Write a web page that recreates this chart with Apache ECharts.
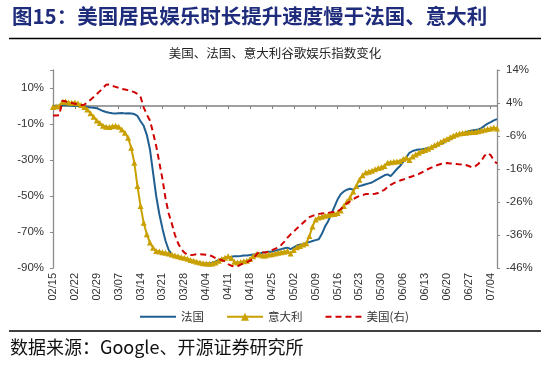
<!DOCTYPE html>
<html>
<head>
<meta charset="utf-8">
<script src="https://cdn.jsdelivr.net/npm/echarts@6/dist/echarts.min.js"></script>
<style>
html,body{margin:0;padding:0;background:#fff;}
#c{width:550px;height:365px;}
</style>
</head>
<body>
<div id="c"></div>
<script>
var dates = [
'02/15','02/16','02/17','02/18','02/19','02/20','02/21','02/22','02/23','02/24','02/25','02/26','02/27','02/28','02/29',
'03/01','03/02','03/03','03/04','03/05','03/06','03/07','03/08','03/09','03/10','03/11','03/12','03/13','03/14','03/15','03/16','03/17','03/18','03/19','03/20','03/21','03/22','03/23','03/24','03/25','03/26','03/27','03/28','03/29','03/30','03/31',
'04/01','04/02','04/03','04/04','04/05','04/06','04/07','04/08','04/09','04/10','04/11','04/12','04/13','04/14','04/15','04/16','04/17','04/18','04/19','04/20','04/21','04/22','04/23','04/24','04/25','04/26','04/27','04/28','04/29','04/30',
'05/01','05/02','05/03','05/04','05/05','05/06','05/07','05/08','05/09','05/10','05/11','05/12','05/13','05/14','05/15','05/16','05/17','05/18','05/19','05/20','05/21','05/22','05/23','05/24','05/25','05/26','05/27','05/28','05/29','05/30','05/31',
'06/01','06/02','06/03','06/04','06/05','06/06','06/07','06/08','06/09','06/10','06/11','06/12','06/13','06/14','06/15','06/16','06/17','06/18','06/19','06/20','06/21','06/22','06/23','06/24','06/25','06/26','06/27','06/28','06/29','06/30',
'07/01','07/02','07/03','07/04','07/05','07/06'
];

// 法国 (left axis, %)
var france = [
0, 0.2, 0.3, 0.5, 0.4, 0.3, 0.2, 0, 0, -0.2,
-0.3, -0.5, -0.8, -1.0, -1.2, -2.0, -2.8, -3.3, -3.7, -4.0,
-4.2, -4.0, -3.9, -4.1, -4.0, -4.2, -4.5, -5.5, -8.5, -11,
-16, -24, -37, -50, -60, -68, -75, -80, -82.5, -83.5,
-84, -84.5, -85, -85.5, -86, -86.5, -87, -87, -87.3, -87.5,
-87.5, -87, -86.5, -85.5, -85, -84.5, -84, -83.8, -83.5, -83.5,
-83.3, -83, -83, -82.8, -82.5, -82.5, -82, -81.5, -81.3, -81,
-81, -80.5, -80, -79.5, -79, -78.7, -79.5, -78.5, -77.5, -77,
-76.8, -76, -75.6, -75, -74.5, -74, -71, -67, -64, -60,
-56, -52, -49, -47.5, -46.5, -46, -46.5, -45, -44.5, -44,
-43.5, -43, -42.5, -41.5, -40.5, -39.5, -38.5, -38, -39, -37,
-35, -33.3, -31, -28.5, -26, -25, -24.5, -24.2, -24, -23.7,
-23.3, -23, -22.5, -21.8, -21.2, -20.3, -19.3, -18.5, -17.6, -16.6,
-15.8, -15.2, -14.6, -14, -13.6, -13.3, -13, -12.3, -11, -9.8,
-9, -8, -7.3
];

// 意大利 (left axis, %)
var italy = [
-0.5, -0.3, 0, 2.2, 2.5, 2, 1.8, 2, 1.5, 0.5,
-0.5, -2, -4, -6, -8, -9.5, -11, -11.5, -11.7, -11.3,
-11, -11.5, -13, -14.8, -17.6, -23.2, -31.5, -44.4, -55.6, -64.8,
-71.3, -75.9, -78.7, -80.5, -80.8, -81.2, -81.5, -82, -82.5, -83,
-83.5, -84, -84.3, -84.8, -85.5, -86, -86.5, -87, -87.3, -87.5,
-87.7, -87.5, -87, -86, -85, -84.3, -83.5, -84.5, -86.5, -87,
-86.7, -86.3, -86, -85, -83.5, -82.4, -82.5, -83, -83, -82.5,
-82.4, -82, -81.5, -81.2, -81, -80.5, -82, -80, -78.5, -77.8,
-77, -76.3, -72.2, -67, -63, -62, -61.5, -61, -60.5, -60.2,
-60, -59.5, -58, -55.6, -53, -50.9, -47.5, -44.4, -41, -38.5,
-37, -36.5, -36, -35.2, -34.5, -34, -33.3, -31.5, -31.2, -31,
-30.8, -30.6, -29.5, -28.7, -30, -28, -26.9, -26, -25, -24.5,
-23.8, -22.8, -21.8, -21, -20, -19, -18.3, -17.4, -16.5, -15.8,
-15.3, -15, -14.8, -14.6, -14.5, -14.4, -14, -13.6, -13.2, -12.8,
-12.5, -12, -12.5
];

// 美国(右) (right axis, %)
var usa = [
0.2, 0.2, 0.3, 4.7, 4.5, 4.2, 4.0, 3.8, 3.6, 3.4,
3.5, 4.2, 5, 5.8, 6.7, 7.6, 8.6, 9.5, 9.6, 9.2,
8.9, 8.6, 8.3, 8.1, 7.9, 7.6, 7.3, 6.8, 5.8, 2.7,
0.5, -1.3, -5, -9, -14, -19, -25, -29.5, -32.5, -36,
-38.5, -40.3, -41.3, -42, -42.1, -42, -41.8, -41.8, -41.9, -42,
-42.1, -42.5, -43, -43.3, -43.6, -44, -44.8, -45.3, -45.5, -45.5,
-45, -44.5, -44.2, -43.8, -43.3, -42, -41, -41.2, -41.3, -41,
-40.6, -40.2, -39.8, -39, -38, -36.8, -35.8, -35, -34, -33.2,
-32.3, -31.4, -30.6, -30.2, -29.9, -29.6, -29.5, -29.4, -29.3, -29.1,
-29, -28.8, -28.2, -27.2, -26.4, -25.8, -25.2, -24.6, -24.2, -23.9,
-23.6, -23.6, -23.6, -23.5, -23.3, -22.8, -22.3, -21.5, -20.8, -20.3,
-19.9, -19.5, -19.2, -18.8, -18.5, -18.2, -17.8, -17.5, -17, -16.5,
-16, -15.6, -15.2, -14.8, -14.5, -14.3, -14.2, -14.3, -14.4, -14.5,
-14.6, -14.7, -14.8, -15.1, -15.5, -15.2, -14.5, -13.5, -12, -11.2,
-11.8, -13.5, -14.3
];

var seriesNames = ['法国', '意大利', '美国(右)'];
var leftTicks = { min: -90, max: 20, step: 20 };
var rightTicks = { min: -46, max: 14, step: 10 };

var FONT = "'Liberation Sans', Arial, sans-serif";
var chart = echarts.init(document.getElementById('c'), null, { renderer: 'canvas' });

chart.setOption({
  animation: false,
  backgroundColor: '#fff',
  graphic: [
    { type: 'text', left: 12, top: 6, style: { text: '图15：美国居民娱乐时长提升速度慢于法国、意大利', fontSize: 20.5, fontWeight: 'bold', fontFamily: "'Noto Sans CJK SC', sans-serif", fill: '#1F2C7C' } },
    { type: 'line', shape: { x1: 9, y1: 38.5, x2: 541, y2: 38.5 }, style: { stroke: '#000', lineWidth: 1.5 } },
    { type: 'text', left: 'center', top: 47, style: { text: '美国、法国、意大利谷歌娱乐指数变化', fontSize: 12.5, fontFamily: "'Noto Sans CJK SC', sans-serif", fill: '#222' } },
    { type: 'line', shape: { x1: 9, y1: 331, x2: 541, y2: 331 }, style: { stroke: '#000', lineWidth: 1.5 } },
    { type: 'text', left: 10, top: 338, style: { text: '数据来源：Google、开源证券研究所', fontSize: 18, fontFamily: "'Noto Sans CJK SC', serif", fill: '#111' } }
  ],
  legend: {
    left: 134, top: 306,
    itemWidth: 36, itemHeight: 10, itemGap: 22,
    textStyle: { fontSize: 11.5, color: '#333', fontFamily: "'Noto Sans CJK SC', sans-serif" },
    data: [
      { name: seriesNames[0], itemStyle: { opacity: 0 } },
      { name: seriesNames[1] },
      { name: seriesNames[2], itemStyle: { opacity: 0 } }
    ]
  },
  grid: { left: 53, right: 53, top: 70, bottom: 97 },
  xAxis: [
    {
      type: 'category', data: dates, boundaryGap: false, position: 'bottom',
      axisLine: { show: false, onZero: false },
      axisTick: { show: false },
      axisLabel: { interval: 6, rotate: 90, margin: 5, fontSize: 11, color: '#333', fontFamily: FONT }
    },
    {
      type: 'category', data: dates, boundaryGap: false, position: 'bottom',
      axisLine: { show: true, onZero: true, onZeroAxisIndex: 0, lineStyle: { color: '#808080', width: 1.5 } },
      axisTick: { show: true, interval: 6, length: 3, lineStyle: { color: '#808080', width: 1 } },
      axisLabel: { show: false }
    }
  ],
  yAxis: [
    {
      type: 'value', position: 'left', min: leftTicks.min, max: leftTicks.max, interval: leftTicks.step,
      splitLine: { show: false },
      axisLine: { show: true, lineStyle: { color: '#8c8c8c', width: 1.3 } },
      axisTick: { show: true, length: 3, lineStyle: { color: '#8c8c8c' } },
      axisLabel: { margin: 9, fontSize: 11.5, color: '#333', fontFamily: FONT,
        formatter: function (v) { return v >= leftTicks.max ? '' : v + '%'; } }
    },
    {
      type: 'value', position: 'right', min: rightTicks.min, max: rightTicks.max, interval: rightTicks.step,
      splitLine: { show: false },
      axisLine: { show: true, lineStyle: { color: '#8c8c8c', width: 1.3 } },
      axisTick: { show: true, length: 3, lineStyle: { color: '#8c8c8c' } },
      axisLabel: { margin: 9, fontSize: 11.5, color: '#333', fontFamily: FONT,
        formatter: function (v) { return v + '%'; } }
    }
  ],
  series: [
    {
      name: seriesNames[0], type: 'line', xAxisIndex: 0, yAxisIndex: 0, data: france,
      showSymbol: false, symbol: 'none',
      lineStyle: { color: '#1F5F91', width: 2 }, itemStyle: { color: '#1F5F91' }, z: 3
    },
    {
      name: seriesNames[1], type: 'line', xAxisIndex: 0, yAxisIndex: 0, data: italy,
      symbol: 'triangle', symbolSize: 6, showSymbol: true, showAllSymbol: true,
      lineStyle: { color: '#C9A000', width: 2 }, itemStyle: { color: '#C9A000' }, z: 4
    },
    {
      name: seriesNames[2], type: 'line', xAxisIndex: 0, yAxisIndex: 1, data: usa,
      showSymbol: false, symbol: 'none',
      lineStyle: { color: '#D00000', width: 2, type: [6, 4] }, itemStyle: { color: '#D00000' }, z: 5
    }
  ]
});
</script>
</body>
</html>
